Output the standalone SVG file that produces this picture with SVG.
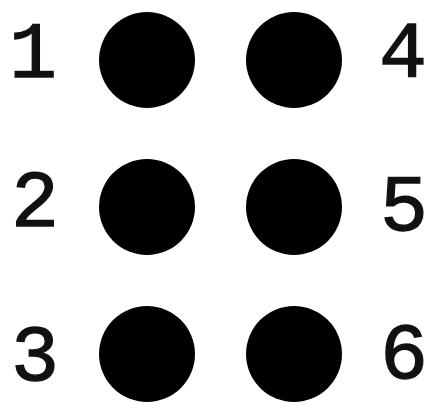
<svg xmlns="http://www.w3.org/2000/svg" width="427" height="403" viewBox="0 0 427 403">
<style>
.dot{fill:#000}
.num{font-family:"Liberation Mono","Courier New",monospace;font-size:80px;fill:#111;stroke:#111;stroke-width:1.3;text-anchor:middle}
</style>
<rect width="427" height="403" fill="#fff"/>
<g id="dot1"><circle class="dot" cx="147" cy="60" r="48"/><text class="num" x="33" y="77">1</text></g>
<g id="dot2"><circle class="dot" cx="147" cy="207" r="48"/><text class="num" x="35" y="226">2</text></g>
<g id="dot3"><circle class="dot" cx="147" cy="354" r="48"/><text class="num" x="35" y="380">3</text></g>
<g id="dot4"><circle class="dot" cx="294" cy="60" r="48"/><text class="num" x="403" y="76">4</text></g>
<g id="dot5"><circle class="dot" cx="294" cy="207" r="48"/><text class="num" x="404" y="230">5</text></g>
<g id="dot6"><circle class="dot" cx="294" cy="354" r="48"/><text class="num" x="404" y="378">6</text></g>
<g id="connectors"/>
</svg>
